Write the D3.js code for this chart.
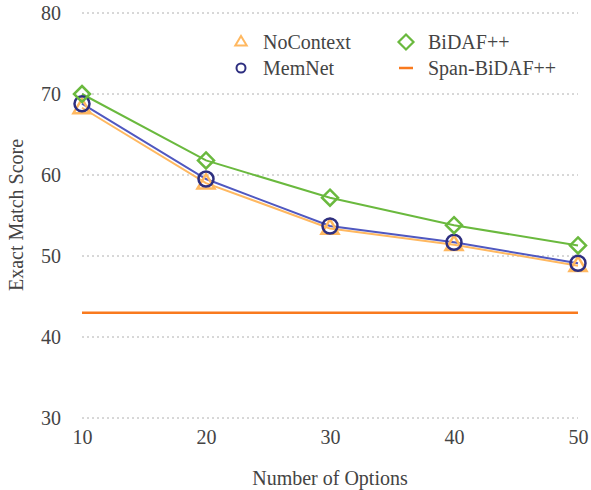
<!DOCTYPE html>
<html><head><meta charset="utf-8">
<script src="https://cdn.jsdelivr.net/npm/d3@7"></script>
<style>body{margin:0;background:#fff}svg{display:block}</style>
</head><body>
<svg id="c" width="591" height="490"></svg>
<script>
const options = [10, 20, 30, 40, 50];
const noContext = [68.3, 59.0, 53.4, 51.4, 48.8];
const memNet = [68.8, 59.5, 53.7, 51.7, 49.1];
const bidaf = [70.0, 61.8, 57.2, 53.8, 51.3];
const spanBidaf = [43.0, 43.0, 43.0, 43.0, 43.0];
const yTicks = [30, 40, 50, 60, 70, 80];
const xTicks = [10, 20, 30, 40, 50];

const svg = d3.select("#c");
const font = "'Liberation Serif','Times New Roman',serif";
const fs = 20;
const x = d3.scaleLinear().domain([10, 50]).range([82, 578]);
const y = d3.scaleLinear().domain([30, 80]).range([418, 13]);

// grid
svg.append("g").selectAll("line").data(yTicks).join("line")
  .attr("x1", 82).attr("x2", 578)
  .attr("y1", d => y(d)).attr("y2", d => y(d))
  .attr("stroke", "#b0b0b0").attr("stroke-width", 1).attr("stroke-dasharray", "2,3");

// axes labels
const ya = svg.append("g").attr("transform", "translate(61,0)")
  .call(d3.axisLeft(y).tickValues(yTicks).tickSize(0).tickPadding(0));
ya.select(".domain").remove();
ya.selectAll("text").attr("font-family", font).attr("font-size", fs).attr("fill", "#444");

const xa = svg.append("g").attr("transform", "translate(0,430)")
  .call(d3.axisBottom(x).tickValues(xTicks).tickSize(0).tickPadding(0));
xa.select(".domain").remove();
xa.selectAll("text").attr("font-family", font).attr("font-size", fs).attr("fill", "#444");

svg.append("text").attr("x", 330).attr("y", 485).attr("text-anchor", "middle")
  .attr("font-family", font).attr("font-size", fs).attr("fill", "#444").text("Number of Options");
svg.append("text").attr("transform", "translate(23,215) rotate(-90)").attr("text-anchor", "middle")
  .attr("font-family", font).attr("font-size", fs).attr("fill", "#444").text("Exact Match Score");

const line = d3.line().x((d, i) => x(options[i])).y(d => y(d));

const series = [
  {name: "Span-BiDAF++", vals: spanBidaf, line: "#f97a1e", mk: null, mkc: "#f97a1e", lw: 2.5},
  {name: "NoContext", vals: noContext, line: "#ffb860", mk: "tri", mkc: "#ffb860", lw: 2},
  {name: "MemNet", vals: memNet, line: "#5058c0", mk: "circle", mkc: "#2e2f80", lw: 2},
  {name: "BiDAF++", vals: bidaf, line: "#6ab93e", mk: "diamond", mkc: "#6ab93e", lw: 2},
];

function marker(g, type, cx, cy, s, color, sw) {
  if (type === "circle") {
    g.append("circle").attr("cx", cx).attr("cy", cy).attr("r", s).attr("fill", "none")
      .attr("stroke", color).attr("stroke-width", sw);
  } else if (type === "diamond") {
    g.append("path").attr("d", `M${cx},${cy - s}L${cx + s},${cy}L${cx},${cy + s}L${cx - s},${cy}Z`)
      .attr("fill", "none").attr("stroke", color).attr("stroke-width", sw);
  } else if (type === "tri") {
    g.append("path").attr("d", `M${cx},${cy - s}L${cx + s * 0.95},${cy + s * 0.6}L${cx - s * 0.95},${cy + s * 0.6}Z`)
      .attr("fill", "none").attr("stroke", color).attr("stroke-width", sw);
  }
}

series.forEach(s => {
  svg.append("path").datum(s.vals).attr("d", line).attr("fill", "none")
    .attr("stroke", s.line).attr("stroke-width", s.lw);
});
const mg = svg.append("g");
series.forEach(s => {
  if (!s.mk) return;
  s.vals.forEach((v, i) => {
    const sz = s.mk === "circle" ? 7.5 : (s.mk === "diamond" ? 8 : 9);
    marker(mg, s.mk, x(options[i]), y(v), sz, s.mkc, 2.5);
  });
});

// legend
const leg = [
  {name: "NoContext", mk: "tri", c: "#ffb860", lx: 241, ly: 42},
  {name: "MemNet", mk: "circle", c: "#2e2f80", lx: 241, ly: 68},
  {name: "BiDAF++", mk: "diamond", c: "#6ab93e", lx: 406, ly: 42},
  {name: "Span-BiDAF++", mk: null, c: "#f97a1e", lx: 406, ly: 68},
];
const lg = svg.append("g");
leg.forEach(l => {
  if (l.mk === "tri") marker(lg, "tri", l.lx, l.ly, 6, l.c, 2);
  else if (l.mk === "circle") marker(lg, "circle", l.lx, l.ly, 4.5, l.c, 2);
  else if (l.mk === "diamond") marker(lg, "diamond", l.lx, l.ly, 7.5, l.c, 2.2);
  else lg.append("line").attr("x1", l.lx - 7).attr("x2", l.lx + 7).attr("y1", l.ly).attr("y2", l.ly)
    .attr("stroke", l.c).attr("stroke-width", 2.5);
  lg.append("text").attr("x", l.lx + 22).attr("y", l.ly + 6.5).attr("font-family", font)
    .attr("font-size", fs).attr("fill", "#444").text(l.name);
});
</script>
</body></html>
